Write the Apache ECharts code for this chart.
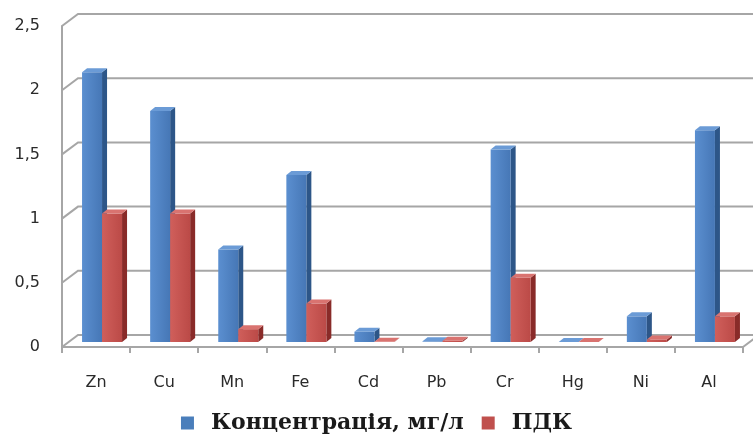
<!DOCTYPE html>
<html>
<head>
<meta charset="utf-8">
<script src="https://cdn.jsdelivr.net/npm/echarts@6/dist/echarts.min.js"></script>
<style>
  html, body { margin: 0; padding: 0; background: #ffffff; }
  #chart { width: 753px; height: 436px; }
</style>
</head>
<body>
<div id="chart"></div>
<script>
// Heavy metals in water: measured concentration vs. maximum permissible concentration (ПДК)
const categories = ['Zn', 'Cu', 'Mn', 'Fe', 'Cd', 'Pb', 'Cr', 'Hg', 'Ni', 'Al'];
const concentration = [2.1, 1.8, 0.72, 1.3, 0.08, 0.005, 1.5, 0.0001, 0.2, 1.65];
const pdk = [1, 1, 0.1, 0.3, 0.001, 0.01, 0.5, 0.0005, 0.02, 0.2];
const yTicks = [0, 0.5, 1, 1.5, 2, 2.5];
const seriesNames = ['Концентрація, мг/л', 'ПДК'];

// pseudo-3D geometry
const WALL_DX = 16, WALL_DY = -12;      // depth of the back wall
const BAR_W = 20;                       // width of one bar face
const BAR_DX = 5, BAR_DY = -4;          // depth of a bar
const BAR_LIFT = 5;                     // bars stand slightly behind the front edge
const BAR_SHIFT = -14;                  // first bar offset from category centre
const GRID_COLOR = '#a6a6a6';

const palette = [
  { front: ['#5b8fd0', '#4677b6'], side: '#2d5688', top: '#6b9bd6', legend: '#4a7ebb' },
  { front: ['#d05f5b', '#bb4a47'], side: '#892b29', top: '#d97370', legend: '#c0504d' }
];

function wallItem(params, api) {
  const v = api.value(1);
  const p = api.coord([0, v]);
  const band = api.size([1, 0])[0];
  const x0 = p[0] - band / 2;
  const y = p[1];
  const cs = params.coordSys;
  const right = cs.x + cs.width;
  const lineStyle = { stroke: GRID_COLOR, lineWidth: 2, fill: null };
  const children = [{
    type: 'polyline',
    shape: { points: [[x0, y], [x0 + WALL_DX, y + WALL_DY], [753, y + WALL_DY]] },
    style: lineStyle
  }];
  if (v === 0) {
    children.push({
      type: 'line',
      shape: { x1: right, y1: y, x2: right + WALL_DX, y2: y + WALL_DY },
      style: lineStyle
    });
  }
  return { type: 'group', children: children };
}

function barRenderer(slot) {
  const c = palette[slot];
  return function (params, api) {
    const i = api.value(0);
    const v = api.value(1);
    const top = api.coord([i, v]);
    const base = api.coord([i, 0]);
    const x = top[0] + BAR_SHIFT + slot * BAR_W;
    const yT = top[1] - BAR_LIFT;
    const yB = base[1] - BAR_LIFT;
    return {
      type: 'group',
      children: [
        {
          type: 'polygon',
          shape: { points: [[x + BAR_W, yT], [x + BAR_W + BAR_DX, yT + BAR_DY], [x + BAR_W + BAR_DX, yB + BAR_DY], [x + BAR_W, yB]] },
          style: { fill: c.side }
        },
        {
          type: 'rect',
          shape: { x: x, y: yT, width: BAR_W, height: yB - yT },
          style: {
            fill: new echarts.graphic.LinearGradient(0, 0, 1, 0, [
              { offset: 0, color: c.front[0] },
              { offset: 1, color: c.front[1] }
            ])
          }
        },
        {
          type: 'polygon',
          shape: { points: [[x, yT], [x + BAR_DX, yT + BAR_DY], [x + BAR_W + BAR_DX, yT + BAR_DY], [x + BAR_W, yT]] },
          style: { fill: c.top }
        }
      ]
    };
  };
}

const chart = echarts.init(document.getElementById('chart'), null, { renderer: 'canvas' });

chart.setOption({
  animation: false,
  backgroundColor: '#ffffff',
  grid: { left: 62, right: 10, top: 26, bottom: 89 },
  legend: {
    data: seriesNames,
    left: 'center',
    top: 407,
    icon: 'rect',
    itemWidth: 13,
    itemHeight: 13,
    itemGap: 18,
    textStyle: {
      fontFamily: 'DejaVu Serif',
      fontWeight: 'bold',
      fontSize: 22,
      color: '#1a1a1a',
      padding: [0, 0, 0, 12]
    }
  },
  xAxis: {
    type: 'category',
    data: categories,
    boundaryGap: true,
    axisLine: { show: true, lineStyle: { color: GRID_COLOR, width: 2 } },
    axisTick: { show: true, length: 6, lineStyle: { color: GRID_COLOR, width: 2 } },
    axisLabel: {
      margin: 28,
      fontFamily: 'DejaVu Sans',
      fontSize: 16,
      color: '#2a2a2a'
    },
    splitLine: { show: false }
  },
  yAxis: {
    type: 'value',
    min: 0,
    max: 2.5,
    interval: 0.5,
    axisLine: { show: true, lineStyle: { color: GRID_COLOR, width: 2 } },
    axisTick: { show: false },
    splitLine: { show: false },
    axisLabel: {
      margin: 22,
      fontFamily: 'DejaVu Sans',
      fontSize: 16,
      color: '#2a2a2a',
      formatter: function (v) { return String(v).replace('.', ','); }
    }
  },
  series: [
    {
      type: 'custom',
      name: 'wall',
      silent: true,
      z: 1,
      renderItem: wallItem,
      data: yTicks.map(function (v) { return [0, v]; })
    },
    {
      type: 'custom',
      name: seriesNames[0],
      z: 3,
      itemStyle: { color: palette[0].legend },
      renderItem: barRenderer(0),
      data: concentration.map(function (v, i) { return [i, v]; })
    },
    {
      type: 'custom',
      name: seriesNames[1],
      z: 4,
      itemStyle: { color: palette[1].legend },
      renderItem: barRenderer(1),
      data: pdk.map(function (v, i) { return [i, v]; })
    }
  ]
});
</script>
</body>
</html>
